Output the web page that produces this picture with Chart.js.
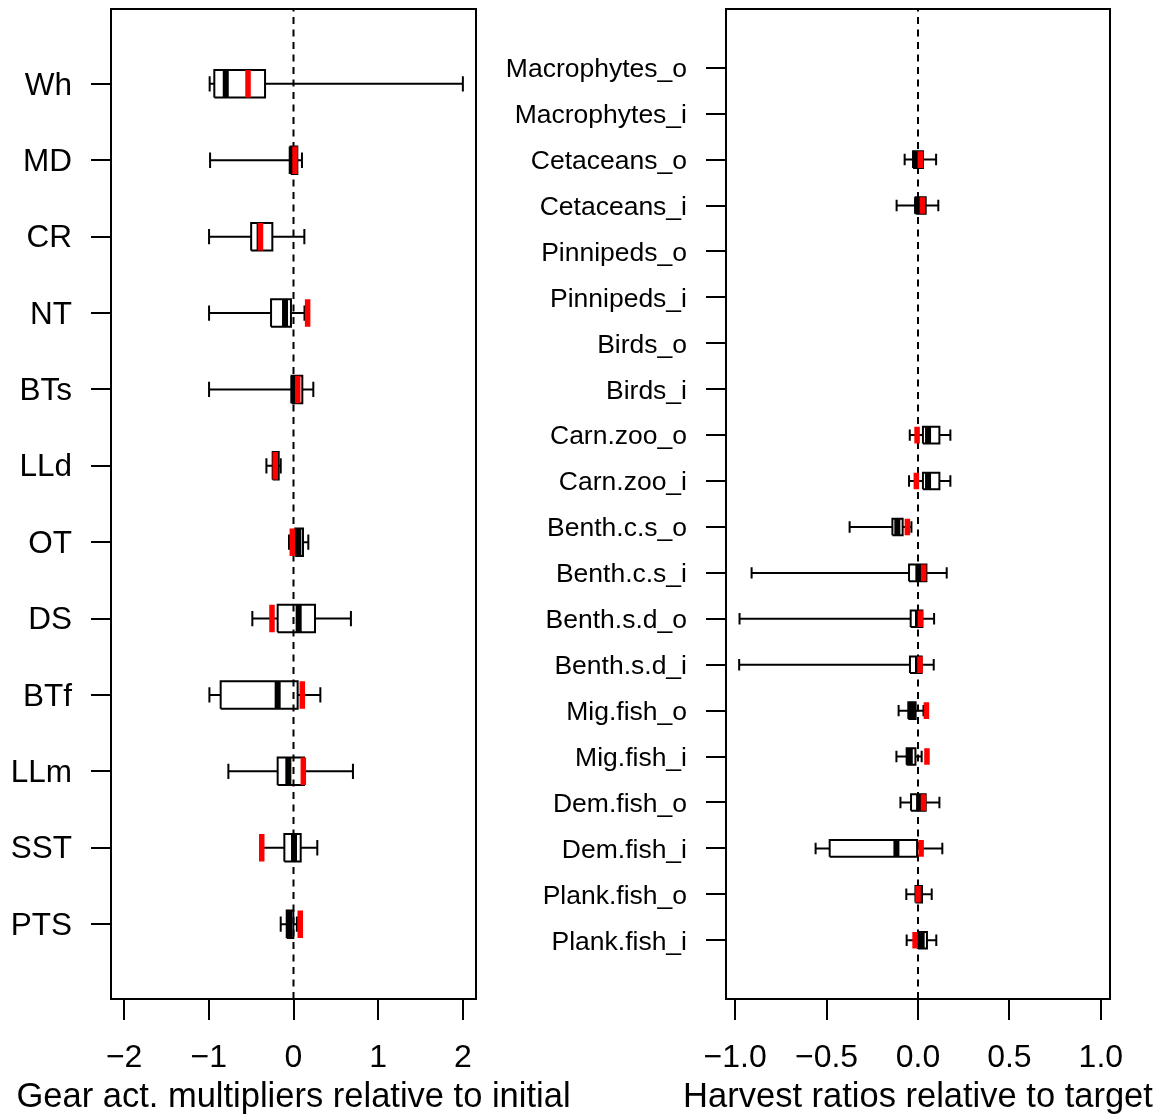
<!DOCTYPE html>
<html>
<head>
<meta charset="utf-8">
<title>Gear activity and harvest ratios</title>
<script src="https://cdn.jsdelivr.net/npm/chart.js@4.4.1/dist/chart.umd.min.js"></script>
<style>
    body { margin: 0; background: #fff; }
    #wrap { position: relative; width: 1158px; height: 1116px; overflow: hidden; background: #fff; }
    canvas { position: absolute; top: 0; }
    #gearChart { left: 0; }
    #harvestChart { left: 440px; }
</style>
</head>
<body>
<div id="wrap">
    <canvas id="gearChart" width="600" height="1116"></canvas>
    <canvas id="harvestChart" width="718" height="1116"></canvas>
</div>
<script>
// Left panel: gear activity multipliers, listed top to bottom
const gearNames = ['Wh', 'MD', 'CR', 'NT', 'BTs', 'LLd', 'OT', 'DS', 'BTf', 'LLm', 'SST', 'PTS'];
const gearLow    = [-0.99, -0.985, -0.997, -0.997, -0.997, -0.32, -0.053, -0.486, -0.993, -0.769, -0.375, -0.151];
const gearQ1     = [-0.935, -0.033, -0.50, -0.265, -0.022, -0.245, 0.02, -0.187, -0.86, -0.187, -0.108, -0.08];
const gearMedian = [-0.80, -0.021, -0.40, -0.10, 0.0, -0.22, 0.057, 0.061, -0.187, -0.061, 0.006, -0.05];
const gearQ3     = [-0.336, 0.045, -0.25, -0.03, 0.104, -0.175, 0.112, 0.254, 0.049, 0.124, 0.085, -0.002];
const gearHigh   = [2.0, 0.10, 0.128, 0.13, 0.234, -0.151, 0.175, 0.678, 0.317, 0.702, 0.281, 0.04];
const gearBest   = [-0.537, 0.018, -0.39, 0.167, 0.05, -0.215, -0.014, -0.254, 0.104, 0.116, -0.375, 0.08];
const gearTickValues = [-2, -1, 0, 1, 2];
const gearTickLabels = ['\u22122', '\u22121', '0', '1', '2'];

// Right panel: harvest ratios, listed top to bottom (null = no data)
const harvestNames = ['Macrophytes_o', 'Macrophytes_i', 'Cetaceans_o', 'Cetaceans_i', 'Pinnipeds_o', 'Pinnipeds_i',
    'Birds_o', 'Birds_i', 'Carn.zoo_o', 'Carn.zoo_i', 'Benth.c.s_o', 'Benth.c.s_i', 'Benth.s.d_o', 'Benth.s.d_i',
    'Mig.fish_o', 'Mig.fish_i', 'Dem.fish_o', 'Dem.fish_i', 'Plank.fish_o', 'Plank.fish_i'];
const harvestLow    = [null, null, -0.073, -0.117, null, null, null, null, -0.045, -0.049, -0.374, -0.91, -0.976, -0.978, -0.106, -0.118, -0.096, -0.56, -0.064, -0.062];
const harvestQ1     = [null, null, -0.027, -0.013, null, null, null, null, 0.027, 0.027, -0.14, -0.049, -0.04, -0.044, -0.053, -0.062, -0.038, -0.483, -0.014, 0.0];
const harvestMedian = [null, null, -0.013, -0.005, null, null, null, null, 0.055, 0.055, -0.113, 0.002, 0.0, 0.0, -0.033, -0.045, 0.006, -0.118, 0.004, 0.02];
const harvestQ3     = [null, null, 0.027, 0.042, null, null, null, null, 0.117, 0.117, -0.084, 0.046, 0.024, 0.02, -0.013, -0.014, 0.042, -0.005, 0.022, 0.049];
const harvestHigh   = [null, null, 0.099, 0.111, null, null, null, null, 0.177, 0.177, -0.036, 0.157, 0.088, 0.086, 0.03, 0.02, 0.117, 0.133, 0.075, 0.1];
const harvestBest   = [null, null, 0.013, 0.024, null, null, null, null, -0.005, -0.009, -0.058, 0.031, 0.013, 0.011, 0.046, 0.049, 0.03, 0.017, 0.0, -0.016];
const harvestTickValues = [-1, -0.5, 0, 0.5, 1];
const harvestTickLabels = ['\u22121.0', '\u22120.5', '0.0', '0.5', '1.0'];

const FONT = 'Liberation Sans, Arial, Helvetica, sans-serif';

// Draws the box around the plotting region
const framePlugin = {
    id: 'frame',
    afterDraw(chart) {
        const a = chart.chartArea;
        const ctx = chart.ctx;
        ctx.save();
        ctx.strokeStyle = '#000';
        ctx.lineWidth = 2;
        ctx.strokeRect(a.left, a.top, a.right - a.left, a.bottom - a.top);
        ctx.restore();
    }
};

// x-axis title, drawn by hand so it is not squeezed to the axis width
function titlePlugin(text) {
    return {
        id: 'xTitle',
        afterDraw(chart) {
            const a = chart.chartArea;
            const ctx = chart.ctx;
            ctx.save();
            ctx.fillStyle = '#000';
            ctx.font = '34.5px ' + FONT;
            ctx.textAlign = 'center';
            ctx.textBaseline = 'middle';
            ctx.fillText(text, (a.left + a.right) / 2, 1097);
            ctx.restore();
        }
    };
}

// Turn a list of polylines into one point list with NaN gaps
function toPoints(lines) {
    const out = [];
    lines.forEach(line => {
        line.forEach(p => out.push({ x: p[0], y: p[1] }));
        out.push({ x: NaN, y: NaN });
    });
    return out;
}

function lineSet(lines, color, width, dash) {
    return {
        type: 'scatter',
        data: toPoints(lines),
        showLine: true,
        spanGaps: false,
        borderColor: color,
        backgroundColor: color,
        borderWidth: width,
        borderDash: dash || [],
        borderCapStyle: 'butt',
        borderJoinStyle: 'miter',
        pointRadius: 0,
        pointHoverRadius: 0
    };
}

function makeChart(canvasId, panel) {
    const n = panel.names.length;
    const whiskers = [], boxes = [], medians = [], best = [];
    const h = panel.boxHalf, c = panel.capHalf;

    panel.names.forEach((name, i) => {
        if (panel.median[i] === null) return;
        const y = n - i;
        whiskers.push([[panel.low[i], y], [panel.q1[i], y]]);
        whiskers.push([[panel.q3[i], y], [panel.high[i], y]]);
        whiskers.push([[panel.low[i], y - c], [panel.low[i], y + c]]);
        whiskers.push([[panel.high[i], y - c], [panel.high[i], y + c]]);
        boxes.push([[panel.q1[i], y - h], [panel.q3[i], y - h], [panel.q3[i], y + h],
            [panel.q1[i], y + h], [panel.q1[i], y - h]]);
        medians.push([[panel.median[i], y - h], [panel.median[i], y + h]]);
        best.push([[panel.best[i], y - h], [panel.best[i], y + h]]);
    });

    // first dataset is drawn on top
    const datasets = [
        lineSet(best, '#ff0000', 5.5),
        lineSet([[[0, panel.yMin], [0, panel.yMax]]], '#000', 2, [7, 5.5]),
        lineSet(medians, '#000', 6),
        lineSet(boxes, '#000', 2),
        lineSet(whiskers, '#000', 2)
    ];

    return new Chart(document.getElementById(canvasId), {
        type: 'scatter',
        data: { datasets: datasets },
        plugins: [framePlugin, titlePlugin(panel.xTitle)],
        options: {
            responsive: false,
            animation: false,
            events: [],
            layout: { padding: { top: 9, right: panel.padRight, left: 0, bottom: 0 } },
            plugins: { legend: { display: false }, tooltip: { enabled: false } },
            scales: {
                x: {
                    type: 'linear',
                    min: panel.xMin,
                    max: panel.xMax,
                    afterBuildTicks: s => { s.ticks = panel.tickValues.map(v => ({ value: v })); },
                    afterFit: s => {
                        s.height = 117;
                        s.paddingLeft = 0;
                        s.paddingRight = 0;
                    },
                    ticks: {
                        callback: (v, idx) => panel.tickLabels[idx],
                        font: { family: FONT, size: 32 },
                        color: '#000',
                        padding: 19,
                        maxRotation: 0,
                        autoSkip: false
                    },
                    grid: { drawOnChartArea: false, tickLength: 21, color: '#000', lineWidth: 2 },
                    border: { display: false }
                },
                y: {
                    type: 'linear',
                    min: panel.yMin,
                    max: panel.yMax,
                    afterBuildTicks: s => { s.ticks = panel.names.map((_, i) => ({ value: n - i })); },
                    afterFit: s => {
                        s.width = panel.yWidth;
                        s.paddingTop = 0;
                        s.paddingBottom = 0;
                    },
                    ticks: {
                        callback: v => panel.names[n - Math.round(v)],
                        font: { family: FONT, size: panel.labelSize },
                        color: '#000',
                        padding: 19,
                        labelOffset: 2,
                        autoSkip: false
                    },
                    grid: { drawOnChartArea: false, tickLength: 20, color: '#000', lineWidth: 2 },
                    border: { display: false }
                }
            }
        }
    });
}

makeChart('gearChart', {
    names: gearNames, low: gearLow, q1: gearQ1, median: gearMedian, q3: gearQ3, high: gearHigh, best: gearBest,
    tickValues: gearTickValues, tickLabels: gearTickLabels,
    xTitle: 'Gear act. multipliers relative to initial',
    xMin: -2.155, xMax: 2.155, yMin: 0.02, yMax: 12.98,
    boxHalf: 0.18, capHalf: 0.1,
    yWidth: 111, padRight: 124, labelSize: 31.5
});

makeChart('harvestChart', {
    names: harvestNames, low: harvestLow, q1: harvestQ1, median: harvestMedian, q3: harvestQ3, high: harvestHigh, best: harvestBest,
    tickValues: harvestTickValues, tickLabels: harvestTickLabels,
    xTitle: 'Harvest ratios relative to target',
    xMin: -1.05, xMax: 1.05, yMin: -0.28, yMax: 21.28,
    boxHalf: 0.18, capHalf: 0.125,
    yWidth: 286, padRight: 48, labelSize: 26.5
});
</script>
</body>
</html>
